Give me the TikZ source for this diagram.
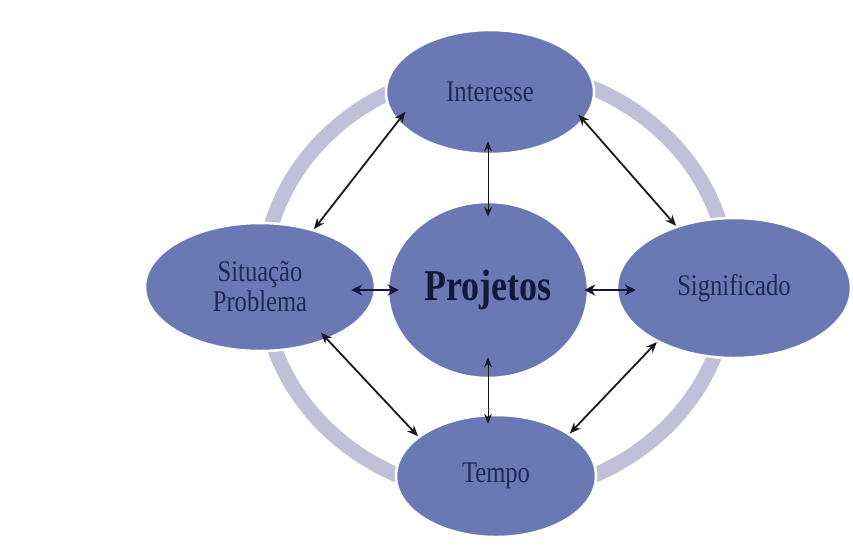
\documentclass[tikz,border=0pt]{standalone}
\usepackage{fontspec}
\newfontfamily\labelfont{Liberation Serif}[FakeStretch=0.82]
\usetikzlibrary{arrows.meta,shapes.geometric}
\definecolor{nodefill}{RGB}{106,121,180}
\definecolor{ringcol}{RGB}{192,192,216}
\definecolor{textcol}{RGB}{34,40,84}
\definecolor{projcol}{RGB}{20,24,56}
\definecolor{arrowcol}{RGB}{26,26,30}
\begin{document}
\begin{tikzpicture}[x=1pt,y=-1pt,
  bubble/.style={ellipse, fill=nodefill, draw=white, line width=2.5pt,
    inner sep=0pt, text=textcol, align=center,
    font=\labelfont\fontsize{30}{30}\selectfont},
  diag/.style={{Stealth[length=11pt,width=9pt]}-{Stealth[length=11pt,width=9pt]},
    line width=1.8pt, arrowcol},
  vert/.style={{Stealth[length=10pt,width=8pt]}-{Stealth[length=10pt,width=8pt]},
    line width=1pt, arrowcol},
  horiz/.style={{Stealth[length=11pt,width=11pt]}-{Stealth[length=11pt,width=11pt]},
    line width=2pt, projcol}]
\useasboundingbox (0,0) rectangle (853,550);
\fill[white] (0,0) rectangle (853,550);
% ring
\draw[ringcol, line width=15pt] (496,282) ellipse [x radius=233, y radius=213];
% nodes
\node[bubble, minimum width=208pt, minimum height=124pt] (int) at (490,92) {Interesse};
\node[bubble, minimum width=230pt, minimum height=128pt] (sit) at (260,287) {Situação\\Problema};
\node[bubble, minimum width=200pt, minimum height=176pt, text=projcol,
  font=\labelfont\bfseries\fontsize{44}{46}\selectfont] (proj) at (488,290) {Projetos};
\node[bubble, minimum width=234pt, minimum height=140pt] (sig) at (734,288) {Significado};
\node[bubble, minimum width=200pt, minimum height=122pt] (tem) at (496,476) {Tempo};
% connectors
\draw[vert, shorten <=-14pt, shorten >=-16pt] (proj.north |- int.south) -- (proj.north);
\draw[vert, shorten <=-22pt, shorten >=-10pt] (proj.south) -- (proj.south |- tem.north);
\draw[horiz, shorten <=-25pt, shorten >=-12pt] (sit.east |- proj.west) -- (proj.west);
\draw[horiz, shorten <=-5pt, shorten >=-20pt] (proj.east) -- (proj.east -| sig.west);
\draw[diag, shorten >=-13pt] (sit.47) -- (int.198);
\draw[diag, shorten <=-8pt] (int.-17) -- (sig.133);
\draw[diag, shorten <=-10pt] (sit.-38) -- (tem.153);
\draw[diag] (sig.215) -- (tem.30);
\end{tikzpicture}
\end{document}
